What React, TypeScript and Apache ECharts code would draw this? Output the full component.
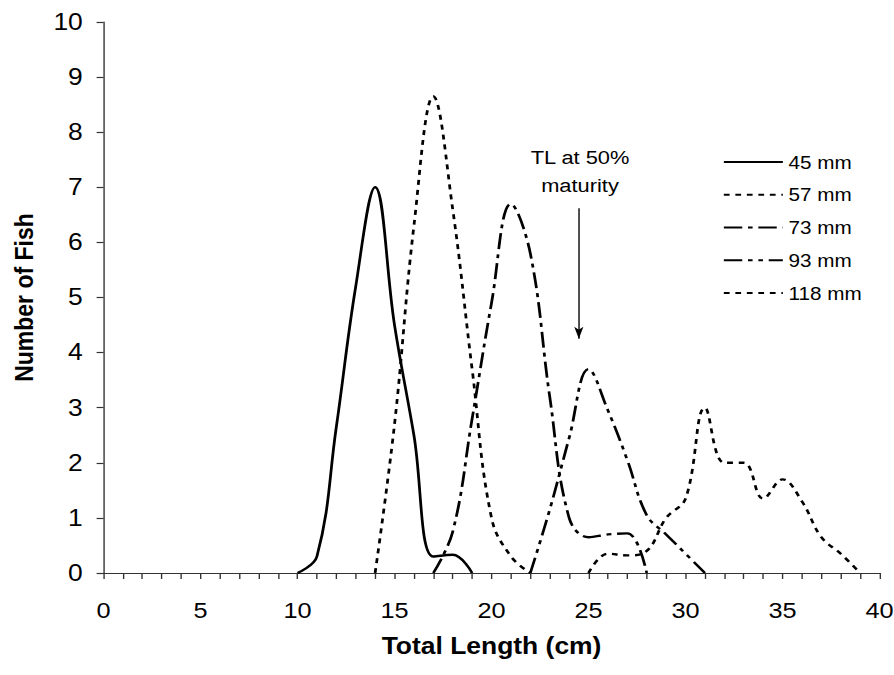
import React, { useEffect, useRef } from "react";
import * as echarts from "echarts";

// Total length (cm) and number of fish for each size class
const len45 = [10, 11, 12, 13, 14, 15, 16, 17, 18, 19];
const fish45 = [0, 0.3, 2.65, 5.2, 7.0, 4.5, 2.5, 0.3, 0.33, 0];

const len57 = [14, 15, 16, 17, 18, 19, 20, 21, 22];
const fish57 = [0, 2.7, 6.3, 8.65, 6.6, 3.7, 1.0, 0.3, 0];

const len73 = [17, 18, 19, 20, 21, 22, 23, 24, 25, 26, 27, 28];
const fish73 = [0, 0.75, 2.8, 4.9, 6.7, 5.8, 3.2, 1.0, 0.65, 0.7, 0.72, 0];

const len93 = [22, 23, 24, 25, 26, 27, 28, 29, 30, 31];
const fish93 = [0, 1.15, 2.45, 3.7, 2.95, 2.05, 1.05, 0.7, 0.35, 0];

const len118 = [25, 26, 27, 28, 29, 30, 31, 32, 33, 34, 35, 36, 37, 38, 39];
const fish118 = [0, 0.35, 0.32, 0.4, 1.0, 1.35, 3.0, 2.0, 2.0, 1.35, 1.7, 1.3, 0.65, 0.35, 0];

const seriesNames = ["45 mm", "57 mm", "73 mm", "93 mm", "118 mm"];

// Arrow marking TL at 50% maturity (data coordinates)
const arrowX = 24.5;
const arrowTop = 6.62;
const arrowTip = 4.25;

const FONT = '"Liberation Sans", Arial, sans-serif';

// the original picture is stretched horizontally
const SX = 1.15;
const W = 894 / SX;
const H = 675;

function pairs(xs: number[], ys: number[]) {
  return xs.map((x, i) => [x, ys[i]]);
}

export default function App() {
  const ref = useRef<HTMLDivElement>(null);

  useEffect(() => {
    if (!ref.current) return;
    const chart = echarts.init(ref.current, undefined, { renderer: "svg" });

    const dashes: (string | number[])[] = [
      "solid",
      [5, 5],
      [16, 5, 4, 5],
      [16, 5, 4, 5, 4, 5],
      [5, 5],
    ];
    const datasets = [
      pairs(len45, fish45),
      pairs(len57, fish57),
      pairs(len73, fish73),
      pairs(len93, fish93),
      pairs(len118, fish118),
    ];

    const series: any[] = datasets.map((d, i) => ({
      name: seriesNames[i],
      type: "line",
      data: d,
      smooth: 0.4,
      symbol: "none",
      showSymbol: false,
      lineStyle: { color: "#000", width: 2.4, type: dashes[i] },
      itemStyle: { color: "#000" },
      z: 3,
    }));

    series[3].markLine = {
      silent: true,
      symbol: ["none", "arrow"],
      symbolSize: [6, 12],
      label: { show: false },
      lineStyle: { color: "#000", width: 1.2, type: "solid" },
      data: [
        [
          { coord: [arrowX, arrowTop] },
          { coord: [arrowX, arrowTip] },
        ],
      ],
    };

    chart.setOption({
      animation: false,
      backgroundColor: "#fff",
      textStyle: { fontFamily: FONT, color: "#000" },
      grid: {
        left: 103.5 / SX,
        right: 14 / SX,
        top: 22,
        bottom: 102,
        containLabel: false,
        outerBoundsMode: "none",
      },
      legend: {
        orient: "vertical",
        left: 722.7 / SX,
        top: 153,
        padding: 0,
        itemWidth: 59 / SX,
        itemHeight: 20,
        itemGap: 14.75,
        itemStyle: { opacity: 0 },
        textStyle: { fontFamily: FONT, fontSize: 18, color: "#000" },
        data: seriesNames,
      },
      xAxis: {
        type: "value",
        min: 0,
        max: 40,
        interval: 5,
        name: "Total Length (cm)",
        nameLocation: "middle",
        nameGap: 62,
        nameTextStyle: { fontFamily: FONT, fontSize: 23, fontWeight: "bold", color: "#000" },
        axisLine: { show: true, lineStyle: { color: "#333", width: 1.2 } },
        axisTick: { show: true, length: 6, inside: false, lineStyle: { color: "#333", width: 1.2 } },
        minorTick: { show: true, splitNumber: 5, length: 6, lineStyle: { color: "#333", width: 1.2 } },
        axisLabel: { fontFamily: FONT, fontSize: 22, color: "#000", margin: 27 },
        splitLine: { show: false },
      },
      yAxis: {
        type: "value",
        min: 0,
        max: 10,
        interval: 1,
        name: "Number of Fish",
        nameLocation: "middle",
        nameGap: 58,
        nameTextStyle: { fontFamily: FONT, fontSize: 23, fontWeight: "bold", color: "#000" },
        axisLine: { show: true, lineStyle: { color: "#333", width: 1.2 } },
        axisTick: { show: true, length: 6, inside: false, lineStyle: { color: "#333", width: 1.2 } },
        axisLabel: { fontFamily: FONT, fontSize: 23, color: "#000", margin: 18 },
        splitLine: { show: false },
      },
      graphic: [
        {
          type: "text",
          x: 580 / SX,
          y: 143,
          style: {
            text: "TL at 50%\nmaturity",
            fontFamily: FONT,
            fontSize: 19,
            lineHeight: 28,
            fill: "#000",
            align: "center",
            verticalAlign: "top",
          },
        },
      ],
      series,
    });

    return () => chart.dispose();
  }, []);

  return (
    <div
      style={{
        position: "fixed",
        left: 0,
        top: 0,
        width: 894,
        height: H,
        overflow: "hidden",
        background: "#fff",
      }}
    >
      <div
        ref={ref}
        style={{
          width: W,
          height: H,
          transform: `scaleX(${SX})`,
          transformOrigin: "0 0",
        }}
      />
    </div>
  );
}
